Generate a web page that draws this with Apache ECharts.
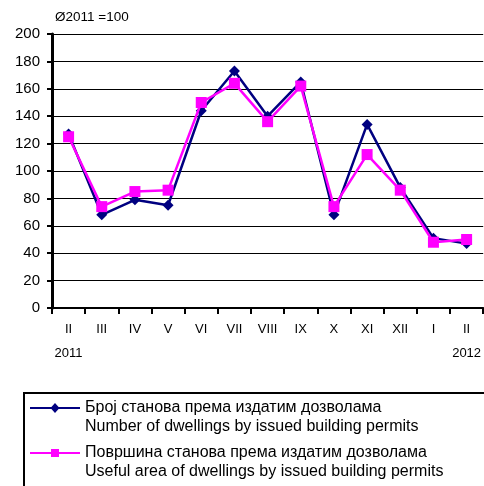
<!DOCTYPE html>
<html><head><meta charset="utf-8">
<script src="https://cdn.jsdelivr.net/npm/echarts@6/dist/echarts.min.js"></script>
<style>html,body{margin:0;padding:0;background:#fff}#c{width:484px;height:486px}</style>
</head><body><div id="c"></div>
<script>
var categories = ['II','III','IV','V','VI','VII','VIII','IX','X','XI','XII','I','II'];
var yearLabels = ['2011','','','','','','','','','','','','2012'];
var dwellings = [127, 68, 79, 75, 144, 173, 140, 165, 68, 134, 88, 51, 47];
var usefulArea = [125, 74, 85, 86, 150, 164, 136, 162, 74, 112, 86, 48, 50];
var seriesNames = ['Број станова према издатим дозволама', 'Површина станова према издатим дозволама'];
var seriesNamesEn = ['Number of dwellings by issued building permits', 'Useful area of dwellings by issued building permits'];

var bbox = 'M0,0 L0.01,0 L0.01,0.01 Z M0,38 L0.01,38 L0.01,37.99 Z ';
var diamondIcon = 'path://' + bbox + 'M0,9 L50,9 L50,11 L0,11 Z M25,5 L29.5,10 L25,15 L20.5,10 Z';
var rectIcon = 'path://' + bbox + 'M0,9 L50,9 L50,11 L0,11 Z M21,6 L29,6 L29,14 L21,14 Z';

var chart = echarts.init(document.getElementById('c'));
var font = 'Arial, "Liberation Sans", sans-serif';
chart.setOption({
  animation: false,
  textStyle: {fontFamily: font},
  title: {text: 'Ø2011 =100', left: 55, top: 10, padding: 0, textStyle: {fontSize: 13.5, fontWeight: 'normal', color: '#000', fontFamily: font}},
  grid: {left: 52, right: -1, top: 34, bottom: 178, containLabel: false},
  xAxis: {
    type: 'category', data: categories, boundaryGap: true,
    axisLine: {lineStyle: {color: '#000', width: 2}},
    axisTick: {show: true, length: 6, lineStyle: {color: '#000', width: 2}},
    axisLabel: {
      color: '#000', fontSize: 13, fontFamily: font, margin: 9, lineHeight: 24, interval: 0,
      formatter: function (v, i) { return yearLabels[i] ? v + '\n' + yearLabels[i] : v; }
    }
  },
  yAxis: {
    type: 'value', min: 0, max: 200, interval: 20,
    axisLine: {show: true, lineStyle: {color: '#000', width: 3}},
    axisTick: {show: true, length: 5, lineStyle: {color: '#000', width: 2}},
    axisLabel: {color: '#000', fontSize: 15, fontFamily: font, margin: 12},
    splitLine: {lineStyle: {color: '#000', width: 1}}
  },
  legend: {
    orient: 'vertical', left: 23, top: 393, itemWidth: 50, itemHeight: 38, itemGap: 7,
    padding: [5, 0, 0, 7],
    textStyle: {color: '#000', fontSize: 16, fontFamily: font, lineHeight: 19},
    formatter: function (n) { var i = seriesNames.indexOf(n); return n + '\n' + seriesNamesEn[i]; },
    data: [{name: seriesNames[0], icon: diamondIcon}, {name: seriesNames[1], icon: rectIcon}]
  },
  graphic: [{
    type: 'rect', shape: {x: 24, y: 393, width: 480, height: 120},
    style: {fill: 'none', stroke: '#000', lineWidth: 2}, silent: true
  }],
  series: [
    {name: seriesNames[0], type: 'line', data: dwellings, symbol: 'diamond', symbolSize: 11,
     lineStyle: {color: '#000080', width: 2.5}, itemStyle: {color: '#000080'}, z: 2},
    {name: seriesNames[1], type: 'line', data: usefulArea, symbol: 'rect', symbolSize: 11,
     lineStyle: {color: '#FF00FF', width: 2.5}, itemStyle: {color: '#FF00FF'}, z: 3}
  ]
});
</script></body></html>
